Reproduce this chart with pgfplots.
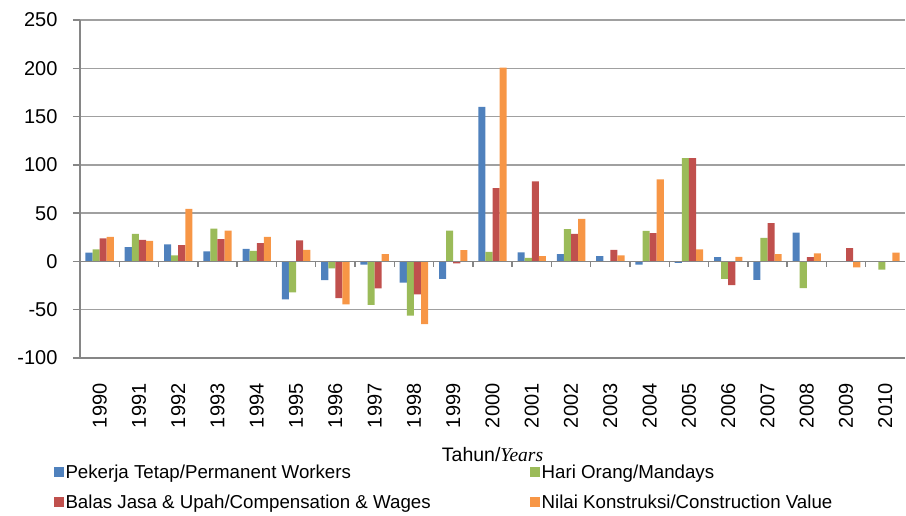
\documentclass[border=0pt]{standalone}
\usepackage{pgfplots}
\pgfplotsset{compat=1.18}
\usepackage{fontspec}
\setmainfont{Liberation Sans}
\newfontfamily\serifit{Liberation Serif}
\definecolor{cblue}{RGB}{79,129,189}
\definecolor{cgreen}{RGB}{155,187,89}
\definecolor{cred}{RGB}{192,80,77}
\definecolor{corange}{RGB}{247,150,70}
\definecolor{gridgray}{RGB}{160,160,160}
\definecolor{axgray}{RGB}{134,134,134}
\pgfplotsset{sqleg/.style={legend image code/.code={\fill[##1,draw=none] (0pt,-5pt) rectangle (10pt,5pt);}}}
\begin{document}
\begin{tikzpicture}
\begin{axis}[
  at={(0pt,0pt)}, anchor=south west,
  scale only axis, width=825pt, height=338pt,
  xmin=-0.5, xmax=20.5, ymin=-100, ymax=250,
  clip mode=individual,
  ybar=0pt, bar width=7.1pt,
  axis lines*=left,
  axis line style={axgray, line width=1.4pt},
  xtick={0,...,20},
  xticklabels={1990,1991,1992,1993,1994,1995,1996,1997,1998,1999,2000,2001,2002,2003,2004,2005,2006,2007,2008,2009,2010},
  x tick style={draw=none},
  xticklabel shift=15pt,
  xticklabel style={rotate=90, anchor=east, font=\fontsize{20}{24}\selectfont},
  ytick={-100,-50,0,50,100,150,200,250},
  yticklabels={-100,-50,0,50,100,150,200,250},
  yticklabel style={font=\fontsize{20}{24}\selectfont, xshift=-12pt},
  tick align=outside, major tick length=7pt,
  y tick style={axgray, line width=1.3pt},
  ymajorgrids, grid style={gridgray, line width=1.3pt},
  legend columns=2,
  legend cell align=left,
  legend style={at={(rel axis cs:-0.036,-0.303)}, anchor=north west, draw=none, fill=none,
    font=\fontsize{18.7}{22}\selectfont,
    /tikz/every even column/.append style={column sep=97pt},
    /tikz/row sep=11pt},
]
\addplot[fill=cblue, draw=none, sqleg] coordinates {(0,9) (1,14.8) (2,17.6) (3,10.3) (4,13.1) (5,-39.3) (6,-19.3) (7,-3.4) (8,-22) (9,-18) (10,160) (11,9.3) (12,7.6) (13,5.5) (14,-3.4) (15,-1.5) (16,4.5) (17,-19) (18,29.7) (19,0) (20,0)};
\addplot[fill=cgreen, draw=none, sqleg] coordinates {(0,12.4) (1,28.6) (2,6.2) (3,34.1) (4,11) (5,-32) (6,-7.2) (7,-45) (8,-56) (9,32) (10,10) (11,3.8) (12,33.4) (13,0) (14,31.7) (15,107) (16,-18) (17,24.5) (18,-27.6) (19,0) (20,-8.6)};
\addplot[fill=cred, draw=none, sqleg] coordinates {(0,24) (1,22.4) (2,16.9) (3,23.1) (4,19) (5,21.7) (6,-38) (7,-28) (8,-34) (9,-2) (10,75.9) (11,83) (12,28.6) (13,12) (14,29.3) (15,107) (16,-24.5) (17,39.7) (18,4.5) (19,13.8) (20,0)};
\addplot[fill=corange, draw=none, sqleg] coordinates {(0,25.5) (1,21.4) (2,54.5) (3,32) (4,25.5) (5,12) (6,-44.5) (7,7.6) (8,-65) (9,11.7) (10,200.7) (11,5.5) (12,44) (13,6.2) (14,85) (15,12.4) (16,4.8) (17,7.6) (18,8.3) (19,-6.2) (20,9)};
\legend{Pekerja Tetap/Permanent Workers, Hari Orang/Mandays, Balas Jasa \& Upah/Compensation \& Wages, Nilai Konstruksi/Construction Value}
\draw[axgray, line width=1.8pt] (axis cs:-0.5,0) -- (axis cs:20.5,0);
\pgfplotsinvokeforeach{0,...,19}{\draw[axgray, line width=1.3pt] (axis cs:#1.5,0) -- ++(0pt,-6pt);}
\node[anchor=center, font=\fontsize{19.5}{23}\selectfont] at (rel axis cs:0.5,-0.287) {Tahun/{\serifit\itshape Years}};
\end{axis}
\pgfresetboundingbox
\useasboundingbox (-80pt,-157pt) rectangle (826pt,358pt);
\end{tikzpicture}
\end{document}
